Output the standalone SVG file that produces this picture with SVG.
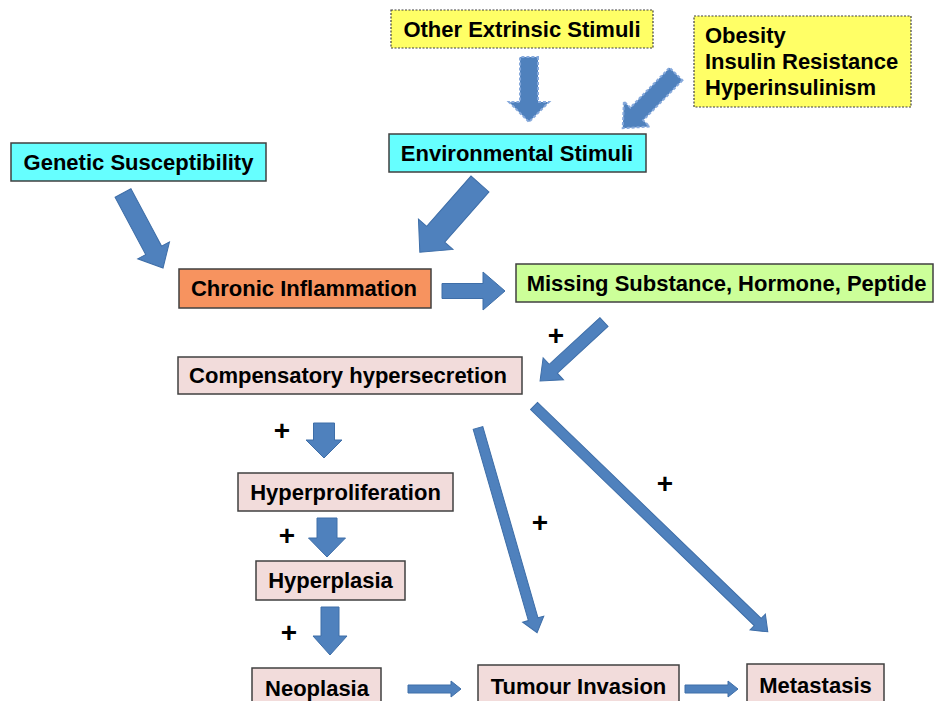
<svg xmlns="http://www.w3.org/2000/svg" width="934" height="701" viewBox="0 0 934 701">
<style>
.box{stroke:#404040;stroke-width:1.5}
.yel{fill:#ffff66;stroke:#404040;stroke-width:1.2;stroke-dasharray:2 1.5}
.cyan{fill:#66ffff}
.org{fill:#f7935f}
.grn{fill:#ccff99}
.pink{fill:#f2dcdb}
.t{font-family:"Liberation Sans",Arial,sans-serif;font-weight:bold;font-size:22px;fill:#000;text-anchor:middle}
.tl{font-family:"Liberation Sans",Arial,sans-serif;font-weight:bold;font-size:22px;fill:#000}
.plus{font-family:"Liberation Sans",Arial,sans-serif;font-weight:bold;font-size:28px;fill:#000;text-anchor:middle}
.arr{fill:#4f81bd;stroke:#3e6ea8;stroke-width:1}
.soft{fill:#4f81bd;stroke:#86a9dc;stroke-width:2;stroke-dasharray:3 2}
</style>
<rect width="934" height="701" fill="#ffffff"/>

<g id="other-extrinsic">
<rect class="yel" x="391" y="10" width="262" height="38"/>
<text class="t" x="522" y="37">Other Extrinsic Stimuli</text>
</g>
<g id="obesity">
<rect class="yel" x="694" y="16" width="217" height="91"/>
<text class="tl" x="705" y="43">Obesity</text>
<text class="tl" x="705" y="69">Insulin Resistance</text>
<text class="tl" x="705" y="95">Hyperinsulinism</text>
</g>
<g id="environmental">
<rect class="box cyan" x="389" y="134" width="257" height="38"/>
<text class="t" x="517" y="160.5">Environmental Stimuli</text>
</g>
<g id="genetic">
<rect class="box cyan" x="11" y="143" width="255" height="38"/>
<text class="t" x="138.5" y="169.5">Genetic Susceptibility</text>
</g>
<g id="chronic">
<rect class="box org" x="179" y="269" width="252" height="39"/>
<text class="t" x="304" y="296">Chronic Inflammation</text>
</g>
<g id="missing">
<rect class="box grn" x="516" y="264" width="417" height="38"/>
<text class="t" x="726.5" y="290.5">Missing Substance, Hormone, Peptide</text>
</g>
<g id="compensatory">
<rect class="box pink" x="178" y="357" width="344" height="37"/>
<text class="t" x="348" y="383">Compensatory hypersecretion</text>
</g>
<g id="hyperproliferation">
<rect class="box pink" x="238" y="473" width="215" height="38"/>
<text class="t" x="345.5" y="499.5">Hyperproliferation</text>
</g>
<g id="hyperplasia">
<rect class="box pink" x="256" y="561" width="149" height="39"/>
<text class="t" x="330.5" y="588">Hyperplasia</text>
</g>
<g id="neoplasia">
<rect class="box pink" x="252" y="668" width="129" height="45"/>
<text class="t" x="317" y="696">Neoplasia</text>
</g>
<g id="tumour">
<rect class="box pink" x="478" y="665" width="201" height="48"/>
<text class="t" x="578.5" y="694">Tumour Invasion</text>
</g>
<g id="metastasis">
<rect class="box pink" x="747" y="664" width="137" height="49"/>
<text class="t" x="815.5" y="693">Metastasis</text>
</g>

<g id="connectors">
<polygon class="soft" points="0,-9 45,-9 45,-20 65,0 45,20 45,9 0,9" transform="translate(529,57) rotate(90)"/>
<polygon class="soft" points="0,-9 56,-9 56,-18 76,0 56,18 56,9 0,9" transform="translate(676,74) rotate(134.5)"/>
<polygon class="arr" points="0,-12 67,-12 67,-23 91,0 67,23 67,12 0,12" transform="translate(480,184) rotate(131.4)"/>
<polygon class="arr" points="0,-9 65,-9 65,-18 85,0 65,18 65,9 0,9" transform="translate(123,193) rotate(61.9)"/>
<polygon class="arr" points="0,-7.5 41,-7.5 41,-19 63,0 41,19 41,7.5 0,7.5" transform="translate(442,291)"/>
<polygon class="arr" points="0,-6 69,-6 69,-15 87,0 69,15 69,6 0,6" transform="translate(604,322) rotate(137.3)"/>
<polygon class="arr" points="0,-10.5 17,-10.5 17,-18 35,0 17,18 17,10.5 0,10.5" transform="translate(324,423) rotate(90)"/>
<polygon class="arr" points="0,-10 20,-10 20,-18.5 39,0 20,18.5 20,10 0,10" transform="translate(327,518) rotate(90)"/>
<polygon class="arr" points="0,-9 29,-9 29,-17 48,0 29,17 29,9 0,9" transform="translate(330,607) rotate(90)"/>
<polygon class="arr" points="0,-4 43,-4 43,-8 53,0 43,8 43,4 0,4" transform="translate(408,689)"/>
<polygon class="arr" points="0,-4 43,-4 43,-8 53,0 43,8 43,4 0,4" transform="translate(685,689)"/>
<polygon class="arr" points="0,-5 199,-5 199,-11 213,0 199,11 199,5 0,5" transform="translate(478,428) rotate(73.9)"/>
<polygon class="arr" points="0,-5 311,-5 311,-11 325,0 311,11 311,5 0,5" transform="translate(534,406) rotate(44)"/>
</g>

<g id="labels">
<text class="plus" x="556" y="345">+</text>
<text class="plus" x="282" y="440">+</text>
<text class="plus" x="287" y="545">+</text>
<text class="plus" x="289" y="642">+</text>
<text class="plus" x="540" y="532">+</text>
<text class="plus" x="665" y="493">+</text>
</g>
</svg>
